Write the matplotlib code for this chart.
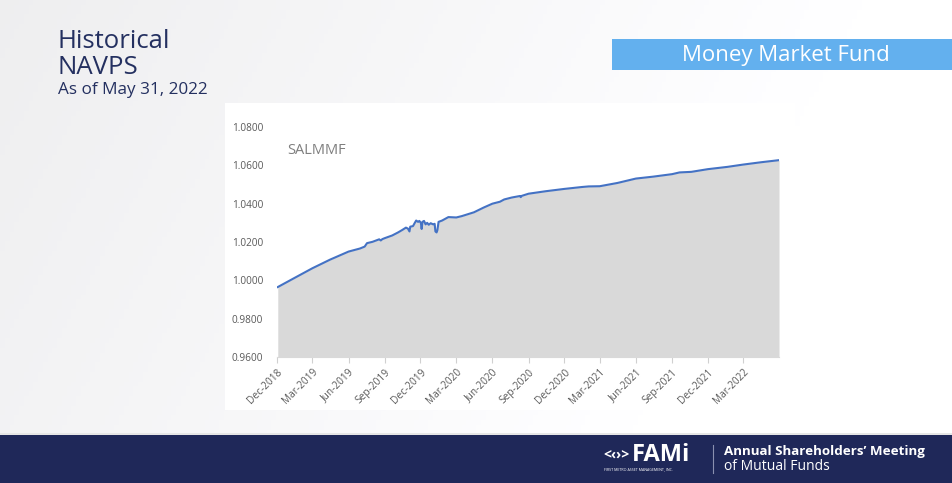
import matplotlib
matplotlib.use("Agg")
import matplotlib.pyplot as plt
import matplotlib.dates as mdates
import numpy as np
import pandas as pd
from matplotlib.patches import Rectangle

plt.rcParams['font.family'] = ['Open Sans', 'Noto Sans', 'DejaVu Sans']

# ---- data ----
dates = [
    "2018-12-03", "2019-01-15", "2019-03-01", "2019-04-15", "2019-06-01",
    "2019-06-30", "2019-07-12", "2019-07-18", "2019-08-01", "2019-08-18",
    "2019-08-22", "2019-08-26", "2019-09-01", "2019-09-20", "2019-10-05",
    "2019-10-15", "2019-10-25", "2019-10-30", "2019-11-03", "2019-11-05",
    "2019-11-12", "2019-11-16", "2019-11-20", "2019-11-25", "2019-11-28",
    "2019-12-02", "2019-12-04", "2019-12-06", "2019-12-10", "2019-12-14",
    "2019-12-18", "2019-12-22", "2019-12-27", "2020-01-02", "2020-01-06",
    "2020-01-08", "2020-01-11", "2020-01-13", "2020-01-16", "2020-01-25",
    "2020-02-10", "2020-03-01", "2020-03-15", "2020-04-15", "2020-05-10",
    "2020-06-01", "2020-06-20", "2020-07-01", "2020-07-20", "2020-08-10",
    "2020-08-12", "2020-08-15", "2020-09-01", "2020-10-15", "2020-12-01",
    "2021-01-15", "2021-02-01", "2021-03-01", "2021-04-15", "2021-06-01",
    "2021-07-15", "2021-09-01", "2021-09-20", "2021-10-20", "2021-12-01",
    "2022-01-20", "2022-03-01", "2022-04-15", "2022-05-31",
]
navps = [
    0.9965, 1.0013, 1.0063, 1.0108, 1.0150,
    1.0166, 1.0176, 1.0194, 1.0201, 1.0214,
    1.0208, 1.0215, 1.0220, 1.0234, 1.0250,
    1.0262, 1.0275, 1.0270, 1.0255, 1.0280,
    1.0283, 1.0298, 1.0312, 1.0305, 1.0310,
    1.0300, 1.0268, 1.0305, 1.0310, 1.0292,
    1.0300, 1.0290, 1.0298, 1.0292, 1.0295,
    1.0255, 1.0250, 1.0262, 1.0305, 1.0312,
    1.0330, 1.0328, 1.0335, 1.0355, 1.0380,
    1.0400, 1.0410, 1.0422, 1.0432, 1.0440,
    1.0434, 1.0441, 1.0452, 1.0465, 1.0477,
    1.0487, 1.0490, 1.0491, 1.0508, 1.0531,
    1.0541, 1.0554, 1.0563, 1.0566, 1.0580,
    1.0592, 1.0604, 1.0616, 1.0627,
]
y_ticks = [0.96, 0.98, 1.00, 1.02, 1.04, 1.06, 1.08]
x_ticks = pd.date_range("2018-12-01", "2022-03-01", freq="3MS")
fund_name = "SALMMF"

d = pd.to_datetime(dates)

W, H = 952, 483
fig = plt.figure(figsize=(W / 100, H / 100), dpi=100)

# background gradient
bg = fig.add_axes([0, 0, 1, 1], zorder=-10)
gx = np.linspace(0, 1, 200)
gy = np.linspace(0, 1, 100)
GX, GY = np.meshgrid(gx, gy)
val = 0.935 + 0.065 * np.clip(GX * 1.1 + GY * 0.3, 0, 1)
img = np.dstack([val, val, val + 0.005])
bg.imshow(np.clip(img, 0, 1), extent=[0, W, H, 0], aspect='auto')
bg.set_xlim(0, W)
bg.set_ylim(H, 0)
bg.axis('off')

# white chart panel
bg.add_patch(Rectangle((225, 103), 570, 307, facecolor='white', edgecolor='none'))
# bottom band
bg.add_patch(Rectangle((0, 435), W, 48, facecolor='#1f2859', edgecolor='none'))
bg.add_patch(Rectangle((0, 433), W, 2, facecolor='#e6e6e6', edgecolor='none'))
# banner
bg.add_patch(Rectangle((612, 39), 340, 31, facecolor='#63b0ee', edgecolor='none'))
bg.text(786, 55, "Money Market Fund", color='white', fontsize=16,
        ha='center', va='center')

navy = '#243060'
bg.text(57, 41, "Historical", color=navy, fontsize=18.5, ha='left', va='center')
bg.text(57, 67, "NAVPS", color=navy, fontsize=18.5, ha='left', va='center')
bg.text(58, 90, "As of May 31, 2022", color=navy, fontsize=12.3, ha='left', va='center')

# footer logo and text
bg.text(603, 455, "<\u2039\u203a>", color='white', fontsize=10, fontweight='bold',
        ha='left', va='center')
bg.text(632, 455, "FAMi", color='white', fontsize=17, fontweight='bold',
        ha='left', va='center')
bg.text(604, 469, "FIRST METRO ASSET MANAGEMENT, INC.", color='white', fontsize=2.6,
        ha='left', va='center')
bg.plot([713, 713], [445, 473], color='#8a90b0', lw=0.8)
bg.text(724, 452, "Annual Shareholders\u2019 Meeting", color='white', fontsize=9.6,
        fontweight='bold', ha='left', va='center')
bg.text(724, 467, "of Mutual Funds", color='white', fontsize=10,
        ha='left', va='center')

# chart axes
left, right = 277, 779
top, bottom = 127, 357
ax = fig.add_axes([left / W, 1 - bottom / H, (right - left) / W, (bottom - top) / H])
ax.fill_between(d, 0.96, navps, color='#d9d9d9', lw=0)
ax.plot(d, navps, color='#4472c4', lw=1.5)
ax.set_ylim(0.96, 1.08)
ax.set_xlim(pd.Timestamp("2018-12-01"), pd.Timestamp("2022-05-31"))
ax.set_yticks(y_ticks)
ax.set_yticklabels([f"{v:.4f}" for v in y_ticks])
ax.set_xticks(x_ticks)
ax.set_xticklabels([t.strftime("%b-%Y") for t in x_ticks], rotation=45,
                   ha='right', rotation_mode='anchor')
ax.tick_params(axis='y', length=0, labelsize=7.2, labelcolor='#595959', pad=10)
ax.tick_params(axis='x', length=4, color='#d0d0d0', labelsize=7.3,
               labelcolor='#595959', pad=3)
for s in ['top', 'right', 'left']:
    ax.spines[s].set_visible(False)
ax.spines['bottom'].set_color('#d9d9d9')
ax.set_facecolor('none')
ax.text(0.02, 0.9, fund_name, transform=ax.transAxes, color='#7f7f7f',
        fontsize=10.5, ha='left', va='center')

fig.savefig("out.png", dpi=100)
